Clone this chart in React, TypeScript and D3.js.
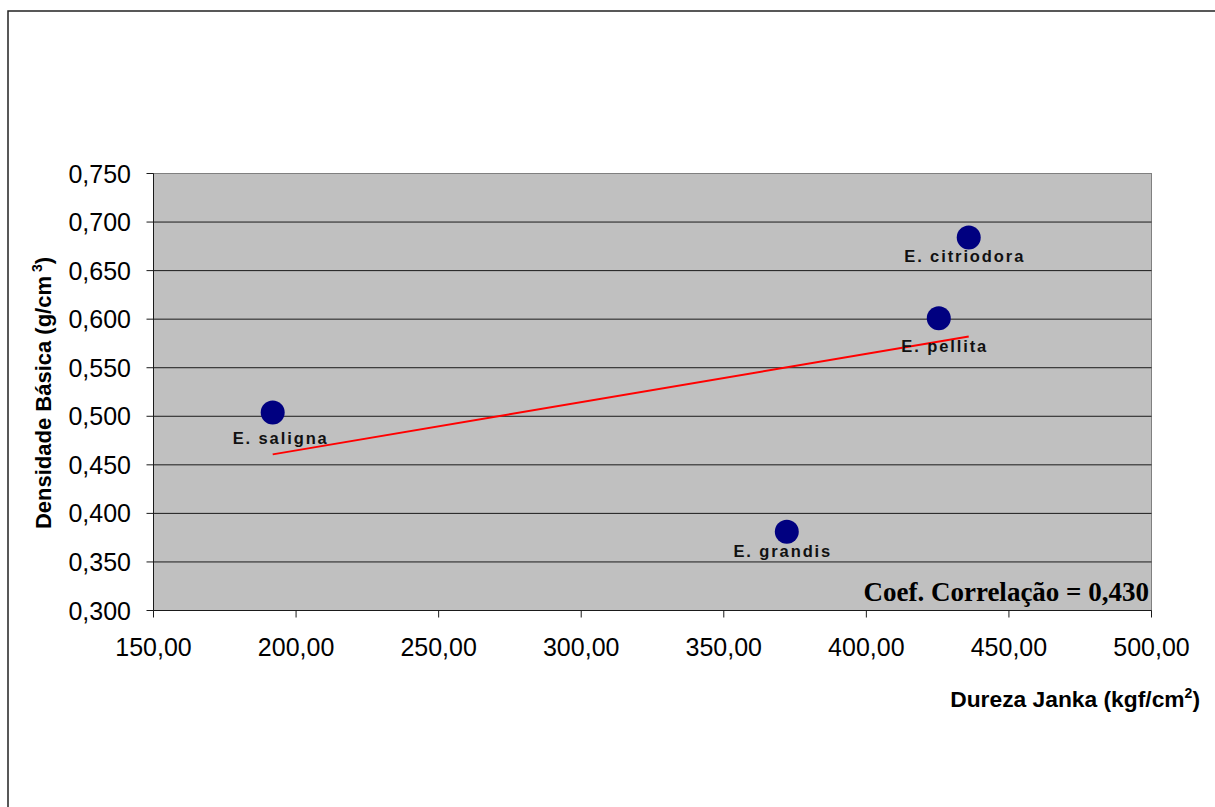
import React from "react";
import * as d3 from "d3";

const species = ["E. saligna", "E. grandis", "E. pellita", "E. citriodora"];
const janka = [191.8, 372.1, 425.4, 435.9];
const density = [0.504, 0.381, 0.601, 0.684];
const xTicks = [150, 200, 250, 300, 350, 400, 450, 500];
const yTicks = [0.3, 0.35, 0.4, 0.45, 0.5, 0.55, 0.6, 0.65, 0.7, 0.75];
const coefText = "Coef. Correlação = 0,430";

// label placement nudges (px) relative to each marker
const labelNudge = [
  { dx: 8, dy: 32 },
  { dx: -4, dy: 25 },
  { dx: 6, dy: 34 },
  { dx: -4, dy: 24 },
];

const W = 1215;
const H = 807;
const plot = { left: 153.5, right: 1151.5, top: 173.5, bottom: 610.5 };

const fmt = (v: number, d: number) => v.toFixed(d).replace(".", ",");

export default function App() {
  const x = d3.scaleLinear().domain([150, 500]).range([plot.left, plot.right]);
  const y = d3.scaleLinear().domain([0.3, 0.75]).range([plot.bottom, plot.top]);

  const mx = d3.mean(janka)!;
  const my = d3.mean(density)!;
  const sxy = d3.sum(janka.map((v, i) => (v - mx) * (density[i] - my)));
  const sxx = d3.sum(janka.map((v) => (v - mx) ** 2));
  const slope = sxy / sxx;
  const icpt = my - slope * mx;
  const [xmin, xmax] = d3.extent(janka) as [number, number];
  const trend = d3.line<number>()
    .x((v) => x(v))
    .y((v) => y(icpt + slope * v))([xmin, xmax]);

  const sans = "'Liberation Sans', Arial, sans-serif";

  return (
    <svg
      width={W}
      height={H}
      style={{ position: "absolute", left: 0, top: 0, background: "#fff" }}
    >
      <rect x={8} y={11} width={1300} height={900} fill="#fff" stroke="#222" strokeWidth={1.5} />
      <rect
        x={plot.left}
        y={plot.top}
        width={plot.right - plot.left}
        height={plot.bottom - plot.top}
        fill="#c0c0c0"
        stroke="#808080"
        strokeWidth={1}
      />
      {yTicks.slice(1, -1).map((t) => (
        <line key={"g" + t} x1={plot.left} x2={plot.right} y1={y(t)} y2={y(t)} stroke="#1a1a1a" strokeWidth={1} />
      ))}
      <line x1={plot.left} x2={plot.left} y1={plot.top} y2={plot.bottom} stroke="#1a1a1a" strokeWidth={1} />
      <line x1={plot.left} x2={plot.right} y1={plot.bottom} y2={plot.bottom} stroke="#1a1a1a" strokeWidth={1} />
      {yTicks.map((t) => (
        <g key={"y" + t}>
          <line x1={plot.left - 7} x2={plot.left} y1={y(t)} y2={y(t)} stroke="#1a1a1a" />
          <text x={131} y={y(t)} dy="0.36em" textAnchor="end" fontFamily={sans} fontSize={25} fill="#000">
            {fmt(t, 3)}
          </text>
        </g>
      ))}
      {xTicks.map((t) => (
        <g key={"x" + t}>
          <line x1={x(t)} x2={x(t)} y1={plot.bottom} y2={plot.bottom + 7} stroke="#1a1a1a" />
          <text x={x(t)} y={656} textAnchor="middle" fontFamily={sans} fontSize={25} fill="#000">
            {fmt(t, 2)}
          </text>
        </g>
      ))}
      <path d={trend ?? ""} stroke="#ff0000" strokeWidth={2} fill="none" />
      {species.map((s, i) => (
        <g key={s}>
          <circle cx={x(janka[i])} cy={y(density[i])} r={12} fill="#000080" />
          <text
            x={x(janka[i]) + labelNudge[i].dx}
            y={y(density[i]) + labelNudge[i].dy}
            textAnchor="middle"
            fontFamily={sans}
            fontWeight="bold"
            fontSize={16.5}
            letterSpacing={1.9}
            fill="#111"
          >
            {s}
          </text>
        </g>
      ))}
      <text x={1149} y={601} textAnchor="end" fontFamily="'Liberation Serif', 'Times New Roman', serif" fontWeight="bold" fontSize={27} fill="#000">
        {coefText}
      </text>
      <text x={1200} y={707} textAnchor="end" fontFamily={sans} fontWeight="bold" fontSize={22.8} fill="#000">
        Dureza Janka (kgf/cm
        <tspan dy={-9} fontSize={14}>2</tspan>
        <tspan dy={9}>)</tspan>
      </text>
      <text
        transform="translate(51,393) rotate(-90)"
        textAnchor="middle"
        fontFamily={sans}
        fontWeight="bold"
        fontSize={22}
        fill="#000"
      >
        Densidade Básica (g/cm
        <tspan dy={-9} fontSize={14}> 3</tspan>
        <tspan dy={9}>)</tspan>
      </text>
    </svg>
  );
}
